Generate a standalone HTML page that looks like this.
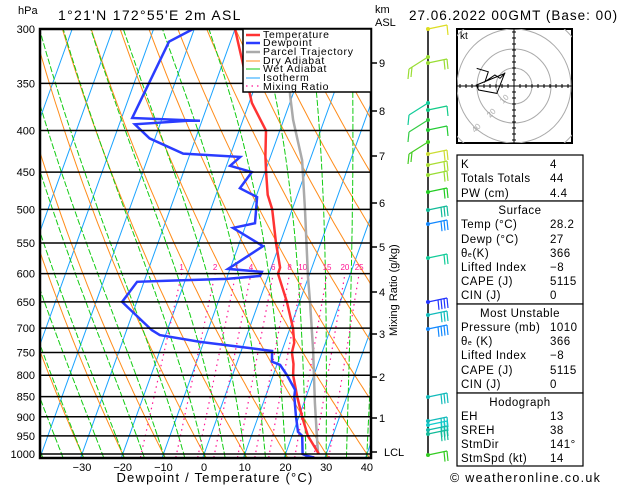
<!DOCTYPE html>
<html><head><meta charset="utf-8"><style>
html,body{margin:0;padding:0;background:#fff;}
svg{display:block;font-family:"Liberation Sans",sans-serif;}
</style></head><body>
<svg id="c" width="629" height="486" viewBox="0 0 629 486" xmlns="http://www.w3.org/2000/svg">
<defs><clipPath id="plot"><rect x="40" y="29" width="331" height="429"/></clipPath>
<clipPath id="hclip"><rect x="457" y="29" width="115" height="114"/></clipPath></defs>
<g id="bg" clip-path="url(#plot)"></g>
<g id="prof" clip-path="url(#plot)"></g>
<g id="axes"></g>
</svg>
<script>
// ---------- data ----------
const pressureTicks=[300,350,400,450,500,550,600,650,700,750,800,850,900,950,1000];
const tempTicks=[-30,-20,-10,0,10,20,30,40];
const kmLabels=["1","2","3","4","5","6","7","8","9"];
const kmY=[418,377,334,292,247,203,156,111,63];
const mixRatios=[1,2,3,4,6,8,10,15,20,25];
const tempP=[1000,950,900,850,800,775,750,730,700,650,600,590,550,500,480,450,430,400,370,300];
const tempT=[28.2,23.9,20.8,17.8,14.9,14.0,12.6,12.3,10.7,6.9,2.2,2.2,-1.0,-4.9,-7.3,-9.7,-11.3,-13.4,-19.3,-30];
const dewP=[1010,1005,1000,950,939,900,850,834,800,777,770,747,740,728,714,704,650,614,612,609,604,597,592,555,527,520,483,471,450,442,431,427,409,393,389,389,386,311,300];
const dewT=[27.3,25.4,24.2,22.5,21.1,19.3,17.1,16.7,13.4,10.8,8.5,7.6,1.2,-10.9,-21.4,-23.8,-33.6,-31.7,-24.4,-9.9,-2.0,-1.9,-10.5,-3.9,-12.9,-7.9,-9.7,-14.7,-13.2,-19.1,-17.4,-31.7,-41.3,-46.2,-33.4,-30.5,-47.4,-45.1,-40.3];
const parcelP=[1000,953,865,745,652,606,501,435,388,362,320];
const parcelT=[28.0,26.2,22.7,17.6,12.7,9.9,3.2,-1.9,-7.7,-10.6,-15];
const hodoU=[-20.7,-14.3,-16.1,-10.6,-7.8,-5,-21,-19.6,-9.5,-9.2,-5];
const hodoV=[9.8,7.9,2.4,6.1,4.3,7,0.5,-2.2,-4.1,-3.3,7.5];
const barbY=[29,57,63,103,110,120,130,142,154,165,175,192,210,224,258,302,315,329,397,421,425,430,434,455];
const barbSpd=[10,15,15,10,10,10,10,15,15,20,20,20,25,30,20,35,30,35,25,25,25,25,25,15];
const barbCol=["#dddd22","#99dd33","#99dd33","#11cc99","#11cc88","#33cc44","#22cc33","#44cc22","#ccdd33","#aadd33","#99dd33","#22cc22","#11bb99","#1188ff","#11cc99","#2233ff","#11bbbb","#1188ff","#11bbbb","#11bbbb","#11cccc","#11bbaa","#11bb99","#33cc22"];
// ---------- axis functions ----------
const NS="http://www.w3.org/2000/svg";
function Y(p){return 29+353*Math.log(p/300);}
function X(T,y){return 82+(T+30)*4.07+0.36*(454-y);}
function mk(tag,attrs,parent){const e=document.createElementNS(NS,tag);for(const k in attrs)e.setAttribute(k,attrs[k]);parent.appendChild(e);return e;}
const bg=document.getElementById('bg'),prof=document.getElementById('prof'),ax=document.getElementById('axes');
function pathFrom(ps,ts){return ps.map((p,i)=>{const y=Y(p);return (i?'L':'M')+X(ts[i],y).toFixed(1)+' '+y.toFixed(1);}).join(' ');}
// isotherms
for(let T=-120;T<=40;T+=10){
 const l=mk('line',{x1:X(T,458),y1:458,x2:X(T,29),y2:29,stroke:'#1aa3ff','stroke-width':1},bg);
 
 
}
// dry adiabats
for(let th=213.15;th<=473.15;th+=10){
 let d='';for(let p=1010;p>=300;p-=10){const T=th*Math.pow(p/1000,0.2857)-273.15;const y=Y(p);d+=(d?'L':'M')+X(T,y).toFixed(1)+' '+y.toFixed(1);}
 const e=mk('path',{d:d,fill:'none',stroke:'#ff8c1a','stroke-width':1},bg);
 
 
}
// wet adiabats
function es(T){return 6.112*Math.exp(17.67*T/(T+243.5));}
function moistGrad(Tk,p){const rs=0.622*es(Tk-273.15)/(p-es(Tk-273.15));const Rd=287,Lv=2.5e6,cp=1005;return (Rd*Tk+Lv*rs)/(p*(cp+Lv*Lv*rs*0.622/(Rd*Tk*Tk)));}
for(let T0=-40;T0<=40;T0+=5){
 let Tk=T0+273.15,d='';
 let T2=Tk;for(let p=1000;p<1010;p+=1){T2+=moistGrad(T2,p);}
 d='M'+X(T2-273.15,Y(1010)).toFixed(1)+' '+Y(1010).toFixed(1);
 for(let p=1000;p>=300;p-=2){const y=Y(p);d+='L'+X(Tk-273.15,y).toFixed(1)+' '+y.toFixed(1);Tk-=moistGrad(Tk,p)*2;}
 const e=mk('path',{d:d,fill:'none',stroke:'#11cc11','stroke-width':1,'stroke-dasharray':'6 2'},bg);
 
 
}
// mixing ratio
function mixTd(w,p){const e=1.15*w*p/(622+w);const L=Math.log(e/6.112);return 243.5*L/(17.67-L);}
mixRatios.forEach(w=>{
 let d='';[1010,600].forEach((p,i)=>{const y=Y(p);d+=(i?'L':'M')+X(mixTd(w,p),y).toFixed(1)+' '+y.toFixed(1);});
 const e=mk('path',{d:d,fill:'none',stroke:'#ff1493','stroke-width':1.2,'stroke-dasharray':'1.5 4'},bg);
 
 
 const t=mk('text',{x:X(mixTd(w,600),Y(600)),y:270,'font-size':8,fill:'#ff1493','text-anchor':'middle'},bg);t.textContent=w;
 
 
});
// pressure lines
pressureTicks.forEach(p=>{
 const y=Y(p);
 const l=mk('line',{x1:40,y1:y,x2:371,y2:y,stroke:'#000','stroke-width':1.5},ax);
 
 
 const t=mk('text',{x:35,y:y+4,'font-size':11,'text-anchor':'end'},ax);t.textContent=p;
 
 
});
// profiles
let e=mk('path',{d:pathFrom(parcelP,parcelT),fill:'none',stroke:'#aaaaaa','stroke-width':2.5},prof);


e=mk('path',{d:pathFrom(tempP,tempT),fill:'none',stroke:'#ff3333','stroke-width':2.5},prof);


e=mk('path',{d:pathFrom(dewP,dewT),fill:'none',stroke:'#2a3cff','stroke-width':2.5},prof);


// frame
e=mk('rect',{x:40,y:29,width:331,height:429,fill:'none',stroke:'#000','stroke-width':2.5},ax);


// temp ticks
tempTicks.forEach(T=>{const t=mk('text',{x:X(T,454),y:471,'font-size':11,'text-anchor':'middle'},ax);t.textContent=(T<0?'\u2212':'')+Math.abs(T);
 
 });
// km ticks
kmLabels.forEach((k,i)=>{
 const l=mk('line',{x1:371,y1:kmY[i],x2:377,y2:kmY[i],stroke:'#000','stroke-width':1.5},ax);
 
 
 const t=mk('text',{x:379,y:kmY[i]+4,'font-size':11},ax);t.textContent=k;
 
 
});
e=mk('line',{x1:371,y1:452,x2:377,y2:452,stroke:'#000','stroke-width':1.5},ax);


// wind barbs
e=mk('line',{x1:428,y1:29,x2:428,y2:456,stroke:'#000','stroke-width':1.5},ax);


barbY.forEach((y,i)=>{
 const g=mk('g',{stroke:barbCol[i],fill:barbCol[i],'stroke-width':1.2},ax);
 
 
 const left=(y>50&&y<150&&i%2==1);const s=left?-1:1;
 const ex=428+s*19,ey=y+(left?12:-4);
 mk('line',{x1:428,y1:y,x2:ex,y2:ey},g);
 mk('circle',{cx:428,cy:y,r:2,stroke:'none'},g);
 let n=Math.round(barbSpd[i]/10);
 for(let k=0;k<n;k++){const bx=ex-s*k*3,by=ey+(left?-k*2:k*0.6);mk('line',{x1:bx,y1:by,x2:bx+s*1,y2:by+10},g);}
});
// hodograph
const hg=mk('g',{},ax);


mk('rect',{x:457,y:29,width:115,height:114,fill:'#fff',stroke:'#000','stroke-width':2},hg);
const hc=mk('g',{'clip-path':'url(#hclip)'},hg);
[18,37,57,76].forEach(r=>mk('circle',{cx:514,cy:86,r:r,fill:'none',stroke:'#aaa','stroke-width':1},hc));
mk('line',{x1:457,y1:86,x2:572,y2:86,stroke:'#000','stroke-width':1},hc);
mk('line',{x1:514,y1:29,x2:514,y2:143,stroke:'#000','stroke-width':1},hc);
for(let k=-10;k<=10;k++){if(!k)continue;mk('line',{x1:514+k*6,y1:84,x2:514+k*6,y2:88,stroke:'#000'},hc);mk('line',{x1:512,y1:86+k*6,x2:516,y2:86+k*6,stroke:'#000'},hc);}
let hd='';hodoU.forEach((u,i)=>{hd+=(i?'L':'M')+(514+u*1.8).toFixed(1)+' '+(86-hodoV[i]*1.8).toFixed(1);});
e=mk('path',{d:hd,fill:'none',stroke:'#000','stroke-width':1},hc);


[['10',503,104],['20',490,118],['40',475,133]].forEach(a=>{const t=mk('text',{x:a[1],y:a[2],'font-size':8,fill:'#aaa',transform:'rotate(-45 '+a[1]+' '+a[2]+')'},hc);t.textContent=a[0];});
const kt=mk('text',{x:460,y:39,'font-size':10},hg);kt.textContent='kt';
</script>
<svg width="629" height="486" style="position:absolute;left:0;top:0" xmlns="http://www.w3.org/2000/svg" font-family="Liberation Sans, sans-serif">
<text x="18" y="14" font-size="11">hPa</text>
<text x="58" y="20" font-size="14" letter-spacing="1.3">1°21'N  172°55'E  2m  ASL</text>
<text x="375" y="13" font-size="11">km</text>
<text x="375" y="26" font-size="11">ASL</text>
<text x="409" y="20" font-size="13.5" letter-spacing="1">27.06.2022  00GMT  (Base: 00)</text>
<text x="384" y="456" font-size="11">LCL</text>
<text x="0" y="0" font-size="11" transform="translate(397,336) rotate(-90)">Mixing Ratio (g/kg)</text>
<text x="215" y="482" font-size="13" text-anchor="middle" letter-spacing="1.2">Dewpoint / Temperature (°C)</text>
<g>
<rect x="243" y="29" width="128" height="63" fill="#fff" stroke="#000" stroke-width="1.5"/>
<g font-size="10.5" letter-spacing="0.7">
<line x1="246" y1="35" x2="260" y2="35" stroke="#ff3333" stroke-width="2.5"/><text x="263" y="38">Temperature</text>
<line x1="246" y1="43" x2="260" y2="43" stroke="#2a3cff" stroke-width="2.5"/><text x="263" y="46">Dewpoint</text>
<line x1="246" y1="52" x2="260" y2="52" stroke="#aaa" stroke-width="2.5"/><text x="263" y="55">Parcel Trajectory</text>
<line x1="246" y1="61" x2="260" y2="61" stroke="#ff8c1a" stroke-width="1"/><text x="263" y="64">Dry Adiabat</text>
<line x1="246" y1="69" x2="260" y2="69" stroke="#11cc11" stroke-width="1"/><text x="263" y="72">Wet Adiabat</text>
<line x1="246" y1="78" x2="260" y2="78" stroke="#1aa3ff" stroke-width="1"/><text x="263" y="81">Isotherm</text>
<line x1="246" y1="86" x2="260" y2="86" stroke="#ff1493" stroke-width="1.2" stroke-dasharray="1.5 4"/><text x="263" y="90">Mixing Ratio</text>
</g></g>
<g font-size="11.5" letter-spacing="0.5">
<rect x="457" y="155" width="126" height="46" fill="#fff" stroke="#000" stroke-width="1.2"/>
<rect x="457" y="201" width="126" height="103" fill="#fff" stroke="#000" stroke-width="1.2"/>
<rect x="457" y="304" width="126" height="89" fill="#fff" stroke="#000" stroke-width="1.2"/>
<rect x="457" y="393" width="126" height="73" fill="#fff" stroke="#000" stroke-width="1.2"/>
<text x="461" y="168">K</text><text x="550" y="168">4</text>
<text x="461" y="182">Totals Totals</text><text x="550" y="182">44</text>
<text x="461" y="197">PW (cm)</text><text x="550" y="197">4.4</text>
<text x="520" y="214" text-anchor="middle">Surface</text>
<text x="461" y="228">Temp (°C)</text><text x="550" y="228">28.2</text>
<text x="461" y="243">Dewp (°C)</text><text x="550" y="243">27</text>
<text x="461" y="257">θ<tspan font-size="7">e</tspan>(K)</text><text x="550" y="257">366</text>
<text x="461" y="271">Lifted Index</text><text x="550" y="271">−8</text>
<text x="461" y="285">CAPE (J)</text><text x="550" y="285">5115</text>
<text x="461" y="299">CIN (J)</text><text x="550" y="299">0</text>
<text x="520" y="317" text-anchor="middle">Most Unstable</text>
<text x="461" y="331">Pressure (mb)</text><text x="550" y="331">1010</text>
<text x="461" y="345">θ<tspan font-size="7">e</tspan> (K)</text><text x="550" y="345">366</text>
<text x="461" y="359">Lifted Index</text><text x="550" y="359">−8</text>
<text x="461" y="374">CAPE (J)</text><text x="550" y="374">5115</text>
<text x="461" y="388">CIN (J)</text><text x="550" y="388">0</text>
<text x="520" y="406" text-anchor="middle">Hodograph</text>
<text x="461" y="420">EH</text><text x="550" y="420">13</text>
<text x="461" y="434">SREH</text><text x="550" y="434">38</text>
<text x="461" y="448">StmDir</text><text x="550" y="448">141°</text>
<text x="461" y="462">StmSpd (kt)</text><text x="550" y="462">14</text>
</g>
<text x="450" y="482" font-size="12.5" letter-spacing="1.3">© weatheronline.co.uk</text>
</svg>
</body></html>
